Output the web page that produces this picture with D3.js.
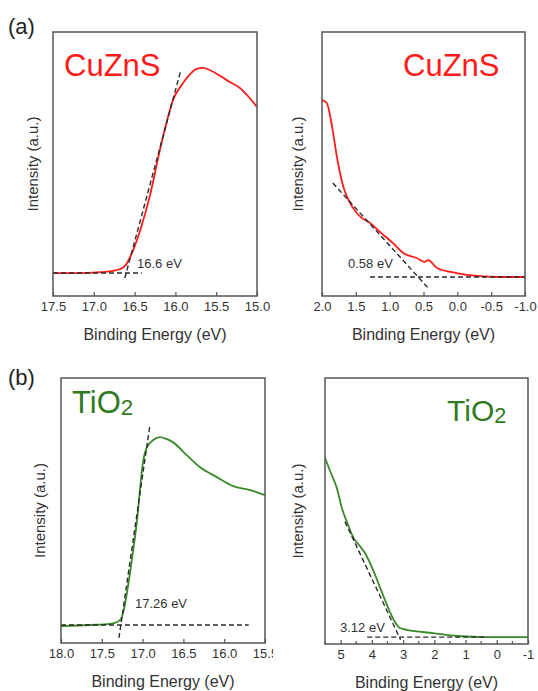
<!DOCTYPE html>
<html>
<head>
<meta charset="utf-8">
<script src="https://cdn.jsdelivr.net/npm/d3@7"></script>
<style>
  body { margin: 0; background: #fff; }
  text { font-family: "Liberation Sans", Arial, sans-serif; }
</style>
</head>
<body>
<div id="fig"></div>
<script>
const W = 538, H = 691;
const red = "#ff1a1a";
const green = "#3a8a2a";
const greenText = "#2f7a22";
const dashColor = "#2a2a2a";

// (a) CuZnS cutoff region
const cuCutE = [17.5, 17.17, 16.86, 16.72, 16.65, 16.61, 16.56, 16.43, 16.31, 16.19, 16.10, 16.03, 15.92, 15.82, 15.74, 15.66, 15.58, 15.45, 15.33, 15.21, 15.09, 15.0];
const cuCutI = [0.087, 0.087, 0.091, 0.098, 0.106, 0.117, 0.144, 0.25, 0.383, 0.553, 0.667, 0.742, 0.80, 0.84, 0.86, 0.864, 0.856, 0.833, 0.81, 0.788, 0.75, 0.716];
const cuCutTangentE = [16.62, 15.94];
const cuCutTangentI = [0.068, 0.848];
const cuCutBaseE = [17.5, 16.41];
const cuCutBaseI = [0.087, 0.087];

// (a) CuZnS valence band region
const cuVbE = [2.0, 1.93, 1.85, 1.78, 1.70, 1.54, 1.41, 1.29, 1.14, 0.95, 0.80, 0.60, 0.48, 0.43, 0.30, 0.01, -0.29, -0.63, -1.0];
const cuVbI = [0.742, 0.731, 0.64, 0.527, 0.428, 0.333, 0.295, 0.277, 0.242, 0.20, 0.163, 0.144, 0.129, 0.136, 0.106, 0.087, 0.076, 0.072, 0.072];
const cuVbTangentE = [1.84, 0.43];
const cuVbTangentI = [0.428, 0.03];
const cuVbBaseE = [1.29, -1.0];
const cuVbBaseI = [0.072, 0.072];

// (b) TiO2 cutoff region
const tiCutE = [18.0, 17.64, 17.40, 17.31, 17.26, 17.23, 17.18, 17.12, 17.07, 17.03, 17.0, 16.95, 16.87, 16.79, 16.71, 16.63, 16.46, 16.30, 16.09, 15.89, 15.68, 15.5];
const tiCutI = [0.064, 0.068, 0.072, 0.079, 0.094, 0.125, 0.211, 0.34, 0.457, 0.585, 0.672, 0.736, 0.766, 0.777, 0.77, 0.758, 0.709, 0.664, 0.626, 0.592, 0.577, 0.558];
const tiCutTangentE = [17.29, 16.91];
const tiCutTangentI = [0.019, 0.823];
const tiCutBaseE = [18.0, 15.70];
const tiCutBaseI = [0.068, 0.068];

// (b) TiO2 valence band region
const tiVbE = [5.5, 5.31, 5.12, 4.96, 4.76, 4.60, 4.41, 4.22, 3.96, 3.67, 3.42, 3.26, 3.10, 2.87, 2.04, 1.27, 0.31, -1.0];
const tiVbI = [0.699, 0.643, 0.586, 0.511, 0.447, 0.402, 0.372, 0.342, 0.278, 0.192, 0.12, 0.083, 0.06, 0.053, 0.041, 0.03, 0.026, 0.026];
const tiVbTangentE = [4.86, 3.08];
const tiVbTangentI = [0.46, 0.016];
const tiVbBaseE = [4.15, 0.3];
const tiVbBaseI = [0.026, 0.026];

// tick labels
const cuCutTicks = [17.5, 17.0, 16.5, 16.0, 15.5, 15.0];
const cuVbTicks = [2.0, 1.5, 1.0, 0.5, 0.0, -0.5, -1.0];
const tiCutTicks = [18.0, 17.5, 17.0, 16.5, 16.0, 15.5];
const tiVbTicks = [5, 4, 3, 2, 1, 0, -1];
const tiVbMinor = [5.5, 4.5, 3.5, 2.5, 1.5, 0.5, -0.5];

const svg = d3.select("#fig").append("svg")
    .attr("width", W)
    .attr("height", H);

function zip(a, b) { return a.map((v, i) => [v, b[i]]); }

// plain hyphen instead of d3's unicode minus
function fmt(spec) {
    const f = d3.format(spec);
    return d => f(d).replace("\u2212", "-");
}

function drawPanel(p) {
    const x = d3.scaleLinear().domain(p.xDomain).range([p.left, p.right]);
    const y = d3.scaleLinear().domain([0, 1]).range([p.bottom, p.top]);
    const g = svg.append("g");

    const clipId = "clip-" + p.id;
    g.append("clipPath").attr("id", clipId)
        .append("rect")
        .attr("x", p.left).attr("y", p.top)
        .attr("width", p.right - p.left).attr("height", p.bottom - p.top);

    const line = d3.line().x(d => x(d[0])).y(d => y(d[1]));
    const smooth = d3.line().x(d => x(d[0])).y(d => y(d[1])).curve(d3.curveMonotoneX);

    const plot = g.append("g").attr("clip-path", "url(#" + clipId + ")");

    plot.append("path")
        .datum(zip(p.curveE, p.curveI).sort((a, b) => x(a[0]) - x(b[0])))
        .attr("d", smooth)
        .attr("fill", "none")
        .attr("stroke", p.color)
        .attr("stroke-width", 1.8);

    [[p.baseE, p.baseI], [p.tanE, p.tanI]].forEach(pair => {
        plot.append("path")
            .datum(zip(pair[0], pair[1]))
            .attr("d", line)
            .attr("fill", "none")
            .attr("stroke", dashColor)
            .attr("stroke-width", 1.4)
            .attr("stroke-dasharray", "5,3");
    });

    // x axis
    const axis = d3.axisBottom(x)
        .tickValues(p.ticks)
        .tickSize(-4)
        .tickPadding(6)
        .tickFormat(p.fmt);
    const ax = g.append("g")
        .attr("transform", "translate(0," + p.bottom + ")")
        .call(axis);
    ax.select(".domain").remove();
    ax.selectAll(".tick line").attr("stroke", "#555").attr("stroke-width", 1.2);
    ax.selectAll(".tick text")
        .attr("fill", "#333")
        .style("font-size", "13px")
        .style("font-family", "Liberation Sans, Arial, sans-serif");
    if (p.minor) {
        g.append("g")
            .attr("transform", "translate(0," + p.bottom + ")")
            .selectAll("line").data(p.minor).join("line")
            .attr("x1", d => x(d)).attr("x2", d => x(d))
            .attr("y1", 0).attr("y2", -3)
            .attr("stroke", "#555").attr("stroke-width", 1.2);
    }
    if (p.axisClip) {
        // the source figure is cropped through the last tick label
        g.append("clipPath").attr("id", "axclip-" + p.id)
            .append("rect")
            .attr("x", 0).attr("y", -10)
            .attr("width", p.axisClip).attr("height", 40);
        ax.attr("clip-path", "url(#axclip-" + p.id + ")");
    }

    // frame
    g.append("rect")
        .attr("x", p.left).attr("y", p.top)
        .attr("width", p.right - p.left).attr("height", p.bottom - p.top)
        .attr("fill", "none")
        .attr("stroke", "#555")
        .attr("stroke-width", 1.5);

    // axis titles
    g.append("text")
        .attr("x", (p.left + p.right) / 2)
        .attr("y", p.bottom + 44)
        .attr("text-anchor", "middle")
        .attr("fill", "#333")
        .style("font-size", "16px")
        .text("Binding Energy (eV)");
    g.append("text")
        .attr("transform", "translate(" + p.yLabelX + "," + ((p.top + p.bottom) / 2) + ") rotate(-90)")
        .attr("text-anchor", "middle")
        .attr("dy", "0.35em")
        .attr("fill", "#333")
        .style("font-size", "15px")
        .text("Intensity (a.u.)");

    // onset value
    g.append("text")
        .attr("x", p.valX).attr("y", p.valY)
        .attr("dy", "0.35em")
        .attr("fill", "#333")
        .style("font-size", "13px")
        .text(p.valText);

    // sample name
    const name = g.append("text")
        .attr("x", p.nameX).attr("y", p.nameY)
        .attr("fill", p.nameColor)
        .style("font-size", p.nameSize + "px");
    name.append("tspan").text(p.name);
    if (p.nameSub) {
        name.append("tspan")
            .attr("dy", "0.1em")
            .style("font-size", (p.nameSize * 0.72) + "px")
            .text(p.nameSub);
    }
}

drawPanel({
    id: "p1", left: 53, right: 257, top: 32, bottom: 296,
    xDomain: [17.5, 15.0], ticks: cuCutTicks, fmt: fmt(".1f"),
    curveE: cuCutE, curveI: cuCutI, color: red,
    tanE: cuCutTangentE, tanI: cuCutTangentI, baseE: cuCutBaseE, baseI: cuCutBaseI,
    yLabelX: 33, valX: 137, valY: 263, valText: "16.6 eV",
    name: "CuZnS", nameX: 64, nameY: 76, nameColor: red, nameSize: 31
});
drawPanel({
    id: "p2", left: 322, right: 525, top: 32, bottom: 296,
    xDomain: [2.0, -1.0], ticks: cuVbTicks, fmt: fmt(".1f"),
    curveE: cuVbE, curveI: cuVbI, color: red,
    tanE: cuVbTangentE, tanI: cuVbTangentI, baseE: cuVbBaseE, baseI: cuVbBaseI,
    yLabelX: 298, valX: 348, valY: 263, valText: "0.58 eV",
    name: "CuZnS", nameX: 403, nameY: 76, nameColor: red, nameSize: 31
});
drawPanel({
    id: "p3", left: 61, right: 265, top: 378, bottom: 643,
    xDomain: [18.0, 15.5], ticks: tiCutTicks, fmt: fmt(".1f"), axisClip: 273,
    curveE: tiCutE, curveI: tiCutI, color: green,
    tanE: tiCutTangentE, tanI: tiCutTangentI, baseE: tiCutBaseE, baseI: tiCutBaseI,
    yLabelX: 40, valX: 135, valY: 603, valText: "17.26 eV",
    name: "TiO", nameSub: "2", nameX: 72, nameY: 413, nameColor: greenText, nameSize: 31
});
drawPanel({
    id: "p4", left: 325, right: 528, top: 378, bottom: 644,
    xDomain: [5.5, -1.0], ticks: tiVbTicks, fmt: fmt("d"), minor: tiVbMinor,
    curveE: tiVbE, curveI: tiVbI, color: green,
    tanE: tiVbTangentE, tanI: tiVbTangentI, baseE: tiVbBaseE, baseI: tiVbBaseI,
    yLabelX: 298, valX: 340, valY: 627, valText: "3.12 eV",
    name: "TiO", nameSub: "2", nameX: 447, nameY: 421, nameColor: greenText, nameSize: 30
});

// panel letters
svg.append("text").attr("x", 8).attr("y", 34)
    .attr("fill", "#222").style("font-size", "22px").text("(a)");
svg.append("text").attr("x", 8).attr("y", 385)
    .attr("fill", "#222").style("font-size", "22px").text("(b)");
</script>
</body>
</html>
